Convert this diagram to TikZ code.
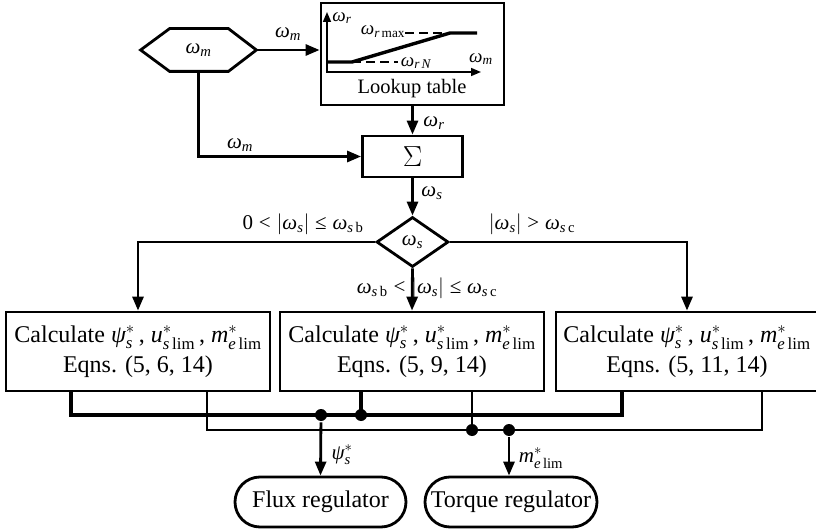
\RequirePackage{fix-cm}
\documentclass[tikz,border=0pt]{standalone}
\usepackage{amsmath}
\usepackage{fontspec}
\setmainfont{Liberation Serif}
\usetikzlibrary{arrows.meta,shapes.geometric}
\newcommand{\gw}{\text{\itshape ω}}
\newcommand{\gp}{\text{\itshape ψ}}
\newcommand{\iv}[1]{\text{\itshape #1}}
\newcommand{\rv}[1]{\text{\upshape #1}}
\newcommand{\rl}[1]{\mathrel{\text{#1}}}
\newcommand{\calcline}{Calculate $\gp_{\iv{s}}^*\,$, $\iv{u}_{\iv{s}\,\rv{lim}}^*\,$, $\iv{m}_{\iv{e}\,\rv{lim}}^*$}
\begin{document}
\begin{tikzpicture}[x=1pt,y=-1pt,line width=2.8pt,
  >={Triangle[length=14pt,width=11pt]},
  blk/.style={draw,line width=2.8pt,inner sep=0pt},
  big/.style={font=\fontsize{24}{30}\selectfont},
  lbl/.style={font=\fontsize{21}{24}\selectfont,inner sep=0pt},
  sml/.style={font=\fontsize{19}{20}\selectfont,inner sep=0pt},
  busthick/.style={line width=3.6pt},
  busthin/.style={line width=1.8pt},
  jdot/.style={fill,circle,inner sep=0pt,minimum size=12pt}]
\useasboundingbox (0,0) rectangle (816,529);

% hexagon input
\node[inner sep=0pt,minimum width=113pt,minimum height=40pt,lbl] (hex) at (198.5,50) {$\gw_{\iv{m}}$};
\draw (hex.west) -- ([xshift=29pt]hex.north west) -- ([xshift=-28pt]hex.north east) -- (hex.east)
  -- ([xshift=-28pt]hex.south east) -- ([xshift=29pt]hex.south west) -- cycle;

% lookup table
\node[blk,minimum width=183pt,minimum height=102pt] (lut) at (412.5,54) {};
\node[font=\fontsize{20.5}{24}\selectfont,inner sep=0pt] (luttxt) at (412,89) {Lookup table};
\draw[line width=1.6pt,-{Triangle[length=10pt,width=8pt]}] (327,73) -- (327,12);
\draw[line width=1.6pt,-{Triangle[length=10pt,width=8pt]}] (327,72) -- (481,72);
\draw[line width=3.4pt] (327,62) -- (352,62) -- (450,33) -- (477,33);
\draw[line width=2.6pt,dash pattern=on 9pt off 5pt] (352,62) -- (398,62);
\draw[line width=2.6pt,dash pattern=on 9pt off 5pt] (405,33) -- (450,33);
\node[sml] (lwr) at (342,18) {$\gw_{\iv{r}}$};
\node[sml] (lwrmax) at (383,32) {$\gw_{\iv{r}\,\rv{max}}$};
\node[sml] (lwrn) at (416,63) {$\gw_{\iv{r}\,\iv{N}}$};
\node[sml] (lwm) at (481,59) {$\gw_{\iv{m}}$};

% sum
\node[blk,minimum width=100pt,minimum height=41pt,font=\fontsize{29}{30}\selectfont] (sum) at (412.5,156.5) {$\Sigma$};

% diamond
\node[diamond,draw,line width=2.8pt,minimum width=72pt,minimum height=50pt,inner sep=0pt,lbl] (dia) at (412.5,242) {$\gw_{\iv{s}}$};

% calc boxes
\node[blk,minimum width=264pt,minimum height=79pt,big,align=center] (b1) at (138,351.5)
  {\calcline\\Eqns. (5, 6, 14)};
\node[blk,minimum width=264pt,minimum height=79pt,big,align=center] (b2) at (412,351.5)
  {\calcline\\Eqns. (5, 9, 14)};
\node[blk,minimum width=262pt,minimum height=79pt,big,align=center] (b3) at (687,351.5)
  {\calcline\\Eqns. (5, 11, 14)};

% regulators
\node[blk,rounded corners=25pt,minimum width=171pt,minimum height=50pt,big] (flux) at (320.5,502) {Flux regulator};
\node[blk,rounded corners=25pt,minimum width=172pt,minimum height=50pt,big] (torq) at (511,502) {Torque regulator};

% upper connectors
\draw[->] (hex.east) -- (hex.east -| lut.west);
\node[lbl] (l1) at (288,34) {$\gw_{\iv{m}}$};
\draw[->] (lut.south) -- (sum.north);
\node[lbl] (l2) at (434,123) {$\gw_{\iv{r}}$};
\draw[->] (hex.south) |- (sum.west);
\node[lbl] (l3) at (240,145) {$\gw_{\iv{m}}$};
\draw[->] (sum.south) -- (dia.north);
\node[lbl] (l4) at (432,193) {$\gw_{\iv{s}}$};

% branches
\draw[->] (dia.west) -| (b1.north);
\node[lbl] (l5) at (303,224) {$\text{0}\rl{<}\left|\gw_{\iv{s}}\right|\rl{≤}\gw_{\iv{s}\,\rv{b}}$};
\draw[->] (dia.east) -| (b3.north);
\node[lbl] (l6) at (532,224) {$\left|\gw_{\iv{s}}\right|\rl{>}\gw_{\iv{s}\,\rv{c}}$};
\draw[->] (dia.south) -- (b2.north);
\node[lbl] (l7) at (427,288) {$\gw_{\iv{s}\,\rv{b}}\rl{<}\left|\gw_{\iv{s}}\right|\rl{≤}\gw_{\iv{s}\,\rv{c}}$};

% buses
\coordinate (jf) at (321,415);
\coordinate (jb) at (361,415);
\coordinate (jc) at (472,430);
\coordinate (jt) at (509,430);
\draw[busthick] ([xshift=-67pt]b1.south) |- ([xshift=-65pt]b3.south |- jf) -- ([xshift=-65pt]b3.south);
\draw[busthick] (b2.south -| jb) -- (jb);
\draw[busthin] ([xshift=69pt]b1.south) |- ([xshift=75pt]b3.south |- jt) -- ([xshift=75pt]b3.south);
\draw[busthin] (b2.south -| jc) -- (jc);
\node[jdot] (df) at (jf) {};
\node[jdot] (db) at (jb) {};
\node[jdot] (dc) at (jc) {};
\node[jdot] (dt) at (jt) {};
\draw[->] (df) -- (flux.north);
\node[lbl] (l8) at (342,455) {$\gp_{\iv{s}}^*$};
\draw[->] (dt) -- (dt |- torq.north);
\node[lbl] (l9) at (541,458) {$\iv{m}_{\iv{e}\,\rv{lim}}^*$};
\end{tikzpicture}
\end{document}
